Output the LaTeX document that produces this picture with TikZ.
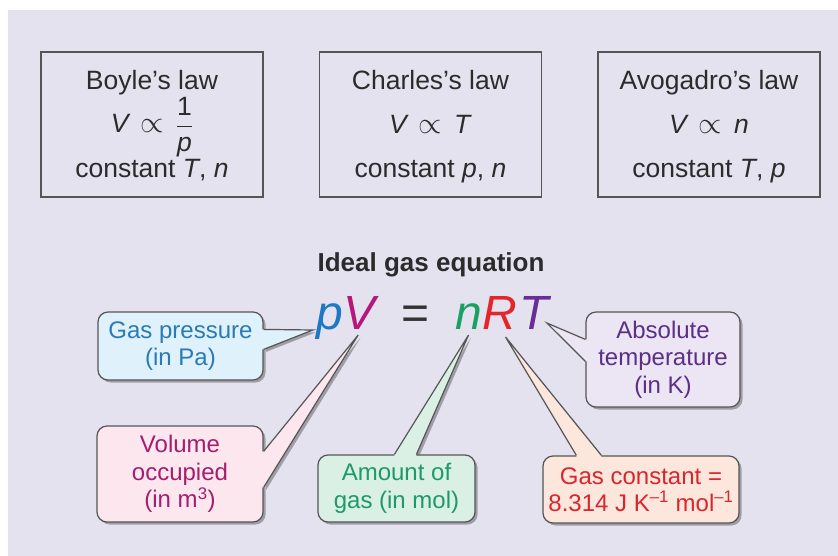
\RequirePackage{fix-cm}
\documentclass[tikz,border=0pt]{standalone}
\usepackage{amsmath}
\usepackage{fontspec}
\setmainfont{Liberation Sans}
\usetikzlibrary{calc,shadows}
\definecolor{bgc}{HTML}{E5E2EF}
\definecolor{boxline}{HTML}{555555}
\definecolor{txtc}{HTML}{2B2B2B}
\definecolor{eqc}{HTML}{333333}
\definecolor{cp}{HTML}{1F78C1}
\definecolor{cV}{HTML}{B5177A}
\definecolor{cn}{HTML}{1AA064}
\definecolor{cR}{HTML}{E3262B}
\definecolor{cT}{HTML}{6A2C95}
\definecolor{gpf}{HTML}{DFF1FA}
\definecolor{gpt}{HTML}{2A7AB5}
\definecolor{volf}{HTML}{FCE7EF}
\definecolor{volt}{HTML}{A51D6E}
\definecolor{amtf}{HTML}{DAF0E4}
\definecolor{amtt}{HTML}{1D9A68}
\definecolor{gcf}{HTML}{FDE7DD}
\definecolor{gct}{HTML}{D9262C}
\definecolor{absf}{HTML}{ECE5F4}
\definecolor{abst}{HTML}{5B2F86}
\pgfdeclarelayer{bg}
\pgfdeclarelayer{shad}
\pgfsetlayers{bg,shad,main}
\newcommand\propsym{{\fontsize{30}{30}\selectfont$\propto$}}
\newcommand\calltail[5]{%
  \begin{pgfonlayer}{shad}
    \fill[tailshadow] ([shift={(2.5,2.5)}]#2) -- ([shift={(2.5,2.5)}]#4) -- ([shift={(2.5,2.5)}]#3) -- cycle;
  \end{pgfonlayer}
  \fill[#1] ([shift={#5}]#2) -- (#2) -- (#4) -- (#3) -- ([shift={#5}]#3) -- cycle;
  \draw[tailside] (#2) -- (#4) -- (#3);}
\begin{document}
\begin{tikzpicture}[x=1pt,y=-1pt,
  lawbox/.style={draw=boxline, line width=1.3pt, minimum width=222pt, minimum height=145pt, inner sep=0pt},
  lawtxt/.style={anchor=base, inner sep=0pt, font=\fontsize{26.5}{30}\selectfont, text=txtc},
  call/.style={rounded corners=10pt, draw=boxline, line width=1.2pt, align=center, inner sep=0pt,
    font=\fontsize{24}{27.5}\selectfont,
    drop shadow={shadow xshift=2.5pt, shadow yshift=-2.5pt, opacity=.3, fill=black}},
  eqtxt/.style={anchor=base west, inner sep=0pt, font=\fontsize{48}{50}\selectfont\itshape},
  tailside/.style={draw=boxline, line width=1.2pt, line join=miter},
  tailshadow/.style={fill=black, opacity=.3}]
\useasboundingbox (0,0) rectangle (838,556);
\begin{pgfonlayer}{bg}
  \fill[white] (0,0) rectangle (838,556);
  \fill[bgc] (8,10) rectangle (838,556);
\end{pgfonlayer}

% law boxes
\node[lawbox] (boyle) at (152,124.5) {};
\node[lawtxt] (boyle1) at (152,90) {Boyle’s law};
\node[lawtxt] (boyle2) at (152,133) {\itshape V\upshape\hspace{12pt}\propsym\hspace{12pt}$\dfrac{\text{1}}{\text{\itshape p}}$};
\node[lawtxt] (boyle3) at (152,178) {constant \textit{T}, \textit{n}};

\node[lawbox] (charles) at (430.5,124.5) {};
\node[lawtxt] (charles1) at (430.5,90) {Charles’s law};
\node[lawtxt] (charles2) at (430.5,134) {\textit{V}\hspace{10pt}\propsym\hspace{12pt}\textit{T}};
\node[lawtxt] (charles3) at (430.5,178) {constant \textit{p}, \textit{n}};

\node[lawbox] (avo) at (709,124.5) {};
\node[lawtxt] (avo1) at (709,90) {Avogadro’s law};
\node[lawtxt] (avo2) at (709,134) {\textit{V}\hspace{10pt}\propsym\hspace{12pt}\textit{n}};
\node[lawtxt] (avo3) at (709,178) {constant \textit{T}, \textit{p}};

% title and equation
\node[anchor=base, inner sep=0pt, font=\fontsize{26}{30}\selectfont\bfseries, text=txtc] (title) at (431,271) {Ideal gas equation};
\node[eqtxt, text=cp] (p) at (316,329) {p};
\node[eqtxt, text=cV] (V) at (343,329) {V};
\node[eqtxt, font=\fontsize{48}{50}\selectfont, text=eqc] (eq) at (401,329) {=};
\node[eqtxt, text=cn] (n) at (455,329) {n};
\node[eqtxt, text=cR] (R) at (482,329) {R};
\node[eqtxt, text=cT] (T) at (519,329) {T};

\coordinate (tp) at ($(p.base west)+(-3,1)$);
\coordinate (tV) at ($(V.base)+(-1,6)$);
\coordinate (tn) at ($(n.base)+(0,6)$);
\coordinate (tR) at ($(R.base)+(6,8)$);
\coordinate (tT) at ($(T.base)+(13,-6)$);

% callouts
\node[call, fill=gpf, text=gpt, minimum width=165pt, minimum height=68pt] (gp) at (180.5,346) {Gas pressure\\(in Pa)};
\coordinate (gp1) at ($(gp.north east)+(0,18)$);
\coordinate (gp2) at ($(gp.north east)+(0,38)$);
\calltail{gpf}{gp1}{gp2}{tp}{(-2,0)}

\node[call, fill=volf, text=volt, minimum width=166pt, minimum height=96pt] (vol) at (180,474) {Volume\\occupied\\(in m\textsuperscript{3})};
\coordinate (vol1) at ($(vol.north east)+(0,26)$);
\coordinate (vol2) at ($(vol.north east)+(0,62)$);
\calltail{volf}{vol1}{vol2}{tV}{(-2,0)}

\node[call, fill=amtf, text=amtt, minimum width=157pt, minimum height=67pt] (amt) at (396.5,488.5) {Amount of\\gas (in mol)};
\coordinate (amt1) at ($(amt.north west)+(77,0)$);
\coordinate (amt2) at ($(amt.north west)+(99,0)$);
\calltail{amtf}{amt1}{amt2}{tn}{(0,2)}

\node[call, fill=gcf, text=gct, minimum width=196pt, minimum height=67pt] (gc) at (641,489.5) {Gas constant =\\8.314 J K\textsuperscript{–1} mol\textsuperscript{–1}};
\coordinate (gc1) at ($(gc.north west)+(34,0)$);
\coordinate (gc2) at ($(gc.north west)+(59,0)$);
\calltail{gcf}{gc1}{gc2}{tR}{(0,2)}

\node[call, fill=absf, text=abst, minimum width=154pt, minimum height=95pt] (abs) at (663,359.5) {Absolute\\temperature\\(in K)};
\coordinate (abs1) at ($(abs.north west)+(0,28)$);
\coordinate (abs2) at ($(abs.north west)+(0,50)$);
\calltail{absf}{abs1}{abs2}{tT}{(2,0)}
\end{tikzpicture}
\end{document}
